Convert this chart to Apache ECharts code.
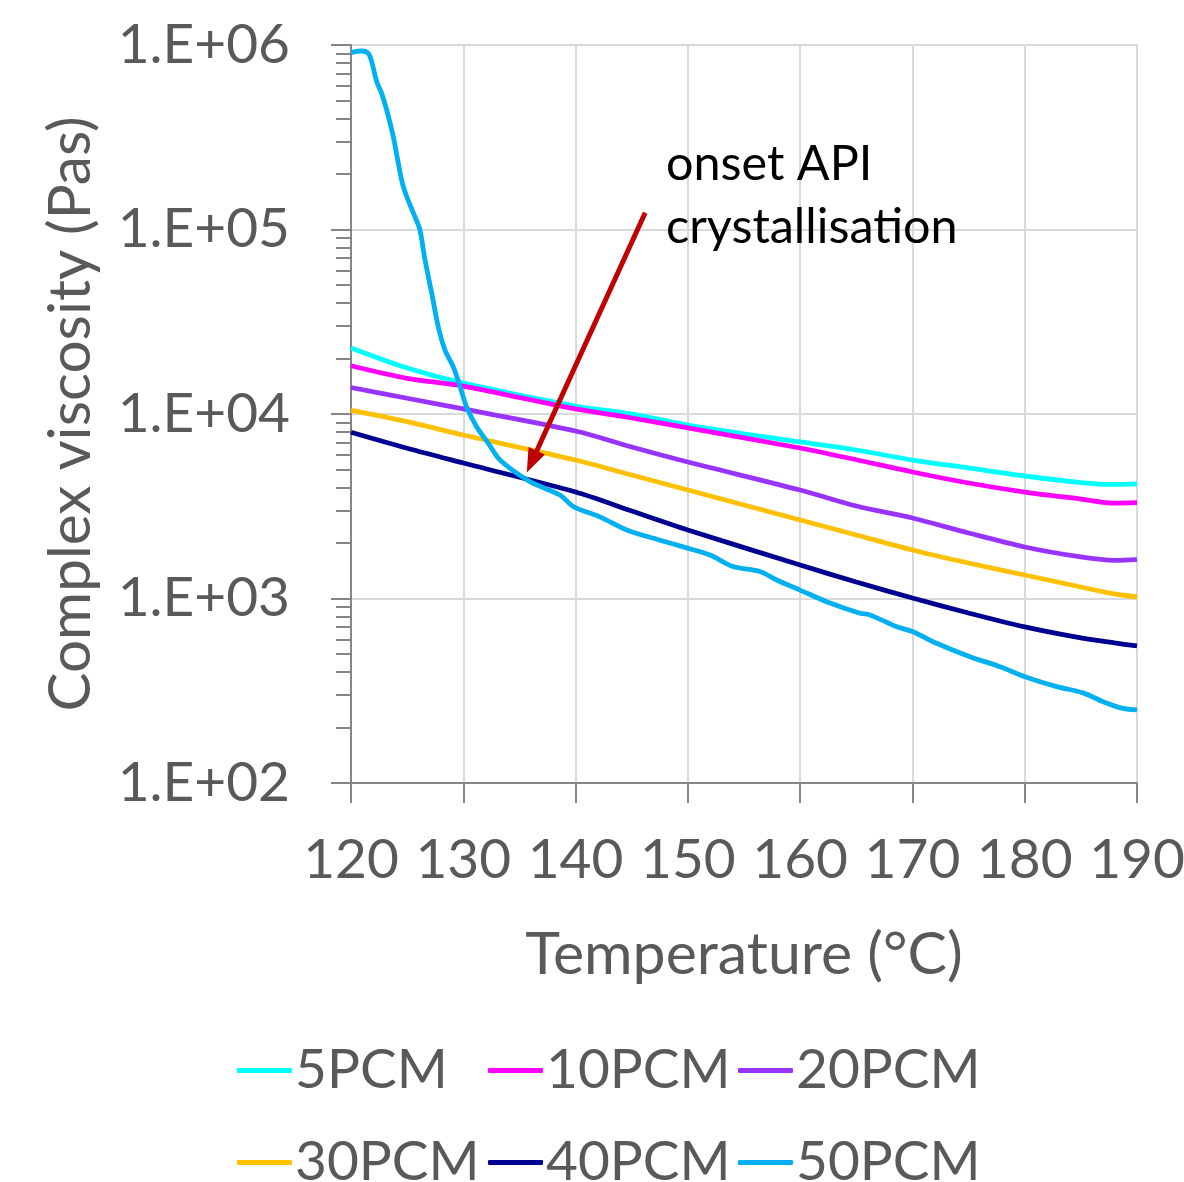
<!DOCTYPE html>
<html><head><meta charset="utf-8">
<script src="https://cdn.jsdelivr.net/npm/echarts@6/dist/echarts.min.js"></script>
<style>html,body{margin:0;padding:0;background:#fff}#c{width:1184px;height:1182px}</style>
</head><body><div id="c"></div>
<script>
// Temperatures (°C) shared by 5-40PCM
const temps = [120,125,130,140,145,150,160,165,170,175,180,185,188,190];
const visc5PCM  = [22790,17760,14720,11050,10000,8717,7051,6381,5631,5098,4613,4250,4150,4180];
const visc10PCM = [18270,15620,14180,10650,9513,8399,6542,5650,4849,4227,3777,3461,3290,3310];
const visc20PCM = [13920,12170,10650,8090,6624,5492,3873,3172,2731,2265,1902,1679,1610,1625];
const visc30PCM = [10450,9085,7695,5631,4670,3873,2665,2209,1832,1557,1341,1154,1058,1019];
const visc40PCM = [7959,6518,5424,3777,2981,2351,1519,1228,1006,834,701,611,574,553];
// 50PCM measured separately
const temps50 = [120.06,120.95,121.54,121.84,122.29,122.73,123.18,123.77,124.51,124.96,125.70,126.14,126.59,127.19,127.77,128.37,129.11,129.71,130.30,131.19,132.23,133.27,135.94,138.61,139.80,142.17,144.55,147.52,149.90,151.97,154.02,156.42,157.91,159.99,162.36,165.33,166.22,168.60,170.05,171.83,175.12,177.80,180.02,182.85,185.19,186.97,188.75,190.0];
const visc50PCM = [913000,928000,902000,812000,632000,547000,444000,318000,185000,151000,117000,99300,68400,45100,29700,22200,18000,14100,10900,8530,6930,5630,4300,3640,3150,2770,2350,2070,1880,1720,1490,1400,1260,1110,961,832,815,703,661,583,484,427,377,333,308,276,254,249];
const seriesNames = ['5PCM','10PCM','20PCM','30PCM','40PCM','50PCM'];
const seriesColors = ['#00FFFF','#FF00FF','#9933FF','#FFC000','#000090','#00B0F0'];
const xTicks = {min:120, max:190, step:10};
const yRange = {min:100, max:1000000};
// annotation arrow (data coords): start, end
const arrowFrom = [146.2, 123300];
const arrowTo = [136.1, 5514];
const annotationText = 'onset API\ncrystallisation';

const FONT = 'Lato';
const GREY = '#595959';
const allVisc = [visc5PCM,visc10PCM,visc20PCM,visc30PCM,visc40PCM];

// minor tick positions (log10 space) for 2..9 x decade
const minorTicks = [];
for (let e = 2; e < 6; e++) for (let k = 2; k <= 9; k++) minorTicks.push(e + Math.log10(k));

const series = [];
for (let i = 0; i < 5; i++) {
  series.push({
    name: seriesNames[i], type:'line', showSymbol:false, smooth:0.3,
    lineStyle:{width:4.8, color:seriesColors[i]}, itemStyle:{color:seriesColors[i]},
    data: temps.map((t,j)=>[t, allVisc[i][j]]), z: 3
  });
}
series.push({
  name: seriesNames[5], type:'line', showSymbol:false, smooth:0.3,
  lineStyle:{width:4.8, color:seriesColors[5]}, itemStyle:{color:seriesColors[5]},
  data: temps50.map((t,j)=>[t, visc50PCM[j]]), z: 3,
  markLine: {
    silent:true, symbol:['none','triangle'], symbolSize:[18,24],
    lineStyle:{color:'#C00000', width:5, type:'solid'}, itemStyle:{color:'#C00000'},
    label:{show:false}, emphasis:{disabled:true},
    data:[[{coord:arrowFrom},{coord:arrowTo}]]
  }
});

const legendPos = [[237,1043],[488,1043],[738,1043],[237,1135],[488,1135],[738,1135]];
const legends = seriesNames.map((n,i)=>({
  data:[n], left:legendPos[i][0], top:legendPos[i][1], padding:0,
  icon:'roundRect', itemWidth:55, itemHeight:5, selectedMode:false,
  textStyle:{fontSize:55, color:GREY, fontFamily:FONT, padding:[0,0,0,-2]}
}));

const chart = echarts.init(document.getElementById('c'), null, {renderer:'canvas'});
chart.setOption({
  animation:false,
  backgroundColor:'#fff',
  grid:{left:351, right:47, top:45, bottom:399, containLabel:false, outerBoundsMode:'none'},
  legend: legends,
  xAxis:{
    type:'value', min:xTicks.min, max:xTicks.max, interval:xTicks.step,
    name:'Temperature (°C)', nameLocation:'middle', nameGap:142,
    nameTextStyle:{fontSize:59, color:GREY, fontFamily:FONT},
    axisLine:{lineStyle:{color:'#868686', width:2}},
    axisTick:{show:true, length:20, lineStyle:{color:'#868686', width:2}},
    axisLabel:{fontSize:55, color:GREY, fontFamily:FONT, margin:50},
    splitLine:{show:true, lineStyle:{color:'#D9D9D9', width:2}}
  },
  yAxis:[{
    type:'log', logBase:10, min:yRange.min, max:yRange.max,
    name:'Complex viscosity (Pas)', nameLocation:'middle', nameGap:250,
    nameTextStyle:{fontSize:58.5, color:GREY, fontFamily:FONT},
    axisLine:{show:true, lineStyle:{color:'#868686', width:2}},
    axisTick:{show:true, length:20, lineStyle:{color:'#868686', width:2}},
    axisLabel:{fontSize:55, color:GREY, fontFamily:FONT, margin:61,
      formatter:v=>{const e=Math.round(Math.log10(v)); return '1.E+' + (e<10?'0':'') + e;}},
    splitLine:{show:true, lineStyle:{color:'#D9D9D9', width:2}}
  },{
    type:'value', min:2, max:6, position:'left',
    axisLine:{show:false}, axisLabel:{show:false}, splitLine:{show:false},
    axisTick:{show:true, length:15, customValues:minorTicks, lineStyle:{color:'#868686', width:2}}
  }],
  graphic:[{
    type:'text', left:666, top:133, z:10,
    style:{text:annotationText, fontSize:48.5, lineHeight:63, fill:'#000', fontFamily:FONT}
  }],
  series: series
});
</script>
</body></html>
